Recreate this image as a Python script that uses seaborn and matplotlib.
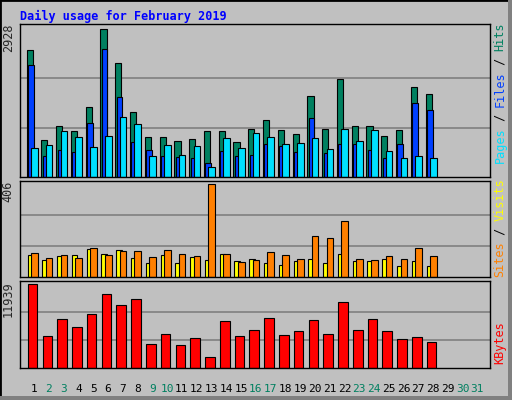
import matplotlib
matplotlib.use("Agg")
import matplotlib.pyplot as plt
import seaborn as sns
import numpy as np

sns.set_style("white")
plt.rcParams['font.family'] = ['DejaVu Sans Mono', 'DejaVu Sans']

days = list(range(1, 32))
hits = [2504, 737, 1016, 916, 1394, 2928, 2251, 1295, 797, 797, 717, 757, 916, 916,
        697, 956, 1135, 936, 857, 1594, 956, 1932, 1016, 1016, 817, 936, 1773, 1633]
files = [2211, 418, 538, 498, 1076, 2530, 1574, 697, 538, 418, 398, 378, 279, 518,
         418, 438, 657, 618, 498, 1175, 478, 657, 657, 538, 378, 657, 1474, 1335]
pages = [578, 637, 916, 797, 598, 817, 1195, 1056, 418, 637, 438, 618, 199, 777,
         578, 876, 797, 657, 677, 777, 558, 956, 717, 936, 518, 378, 418, 378]
visits = [105, 83, 96, 83, 127, 96, 114, 114, 87, 118, 100, 92, 406, 100,
          65, 74, 109, 96, 79, 179, 170, 245, 79, 74, 92, 79, 127, 92]
sites = [96, 74, 92, 96, 122, 100, 118, 83, 61, 96, 61, 87, 74, 100,
         70, 79, 61, 52, 70, 79, 61, 100, 70, 70, 79, 48, 70, 48]
kbytes = [11939, 4548, 6964, 5827, 7675, 10518, 8954, 9808, 3411, 4832, 3269, 4264, 1563, 6680,
          4548, 5401, 7107, 4690, 5259, 6822, 4832, 9381, 5401, 6964, 5259, 4122, 4406, 3695]
weekend = [2, 3, 9, 10, 16, 17, 23, 24, 30, 31]

BG = "#C0C0C0"
fig = plt.figure(figsize=(5.12, 4.0), dpi=100, facecolor=BG)
W, H = 512, 400

def axes(top, bottom):
    return fig.add_axes([20 / W, 1 - bottom / H, 470 / W, (bottom - top) / H], facecolor=BG)

n = len(hits)
x = np.arange(1, n + 1)
ek = dict(edgecolor="black", linewidth=0.8)

ax1 = axes(24, 177)
ax1.bar(x - 0.3, hits, width=0.42, color="#008060", **ek)
ax1.bar(x - 0.22, files, width=0.38, color="#0040FF", **ek)
ax1.bar(x + 0.02, pages, width=0.45, color="#00E0FF", **ek)
ax1.set_ylim(0, 2928 * 152 / 147)
for g in (976, 1952):
    ax1.axhline(g, color="#808080", lw=1.2, zorder=0)

ax2 = axes(181, 277)
ax2.bar(x - 0.25, sites, width=0.38, color="#FFFF00", **ek)
ax2.bar(x + 0.02, visits, width=0.45, color="#FF8000", **ek)
ax2.set_ylim(0, 406 * 96 / 93)
for g in (135, 270):
    ax2.axhline(g, color="#808080", lw=1.2, zorder=0)

ax3 = axes(281, 368)
ax3.bar(x - 0.1, kbytes, width=0.65, color="#FF0000", **ek)
ax3.set_ylim(0, 11939 * 87 / 84)
for g in (3980, 7960):
    ax3.axhline(g, color="#808080", lw=1.2, zorder=0)

for ax, mx in ((ax1, "2928"), (ax2, "406"), (ax3, "11939")):
    ax.set_xlim(0.05, 31.85)
    ax.set_xticks([]); ax.set_yticks([])
    for s in ax.spines.values():
        s.set_color("black"); s.set_linewidth(1)
    ax.text(-0.025, 1.0, mx, transform=ax.transAxes, rotation=90, ha="center", va="top", fontsize=8.5)

for d in days:
    fig.text((20 + (d - 0.05) / 31.8 * 470) / W, 1 - 389 / H, str(d), ha="center", va="center",
             fontsize=8, color="#008060" if d in weekend else "black")

def side(parts, bottom):
    y = bottom
    for txt, col in parts:
        fig.text(500 / W, 1 - y / H, txt, rotation=90, ha="center", va="bottom", fontsize=8.5, color=col)
        y -= len(txt) * 7.0

side([("Pages", "#00E0FF"), (" / ", "black"), ("Files", "#0040FF"), (" / ", "black"), ("Hits", "#008060")], 163)
side([("Sites", "#FF8000"), (" / ", "black"), ("Visits", "#FFFF00")], 277)
side([("KBytes", "#FF0000")], 364)

fig.text(20 / W, 1 - 16 / H, "Daily usage for February 2019", color="#0000FF", fontsize=8.5,
         fontweight="bold", ha="left", va="center")

fig.patches.append(plt.Rectangle((0, 0), 1, 1, transform=fig.transFigure, fill=False,
                                 edgecolor="black", lw=2))
fig.patches.append(plt.Rectangle((508 / W, 0), 4 / W, 1, transform=fig.transFigure,
                                 color="#808080", lw=0))
fig.patches.append(plt.Rectangle((0, 0), 1, 4 / H, transform=fig.transFigure,
                                 color="#808080", lw=0))

fig.savefig("out.png", dpi=100, facecolor=BG)
